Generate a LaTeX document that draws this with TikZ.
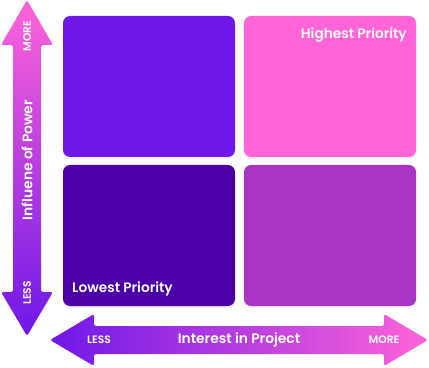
\documentclass[tikz,border=0pt]{standalone}
\usepackage{fontspec}
\setmainfont{Poppins}[BoldFont={Poppins SemiBold}]
\usetikzlibrary{shadows}

\definecolor{pinkhi}{HTML}{FF64D8}
\definecolor{violet}{HTML}{6E17E8}
\definecolor{indigo}{HTML}{4B00A8}
\definecolor{plum}{HTML}{AA35C4}

\begin{document}
\begin{tikzpicture}[x=0.03cm, y=0.03cm,
    quad/.style={rounded corners=6pt, minimum width=172*0.03cm, minimum height=141*0.03cm,
      inner sep=0pt, drop shadow={opacity=0.12, shadow xshift=0pt, shadow yshift=-2pt}},
    title/.style={text=white, font=\bfseries\fontsize{11.7}{14}\selectfont, inner sep=0pt},
    axis/.style={text=white, font=\bfseries\fontsize{11.8}{14}\selectfont, inner sep=0pt},
    tick/.style={text=white, font=\bfseries\fontsize{9.2}{11}\selectfont, inner sep=0pt}]
    \useasboundingbox (0,0) rectangle (429,367);

    % Quadrants
    \node[quad, fill=violet] (lowhigh) at (149,280.5) {};
    \node[quad, fill=pinkhi] (highhigh) at (330,280.5) {};
    \node[quad, fill=indigo] (lowlow) at (149,131.5) {};
    \node[quad, fill=plum] (highlow) at (330,131.5) {};

    % Quadrant labels
    \node[title, anchor=east] (highest) at (407,332) {Highest Priority};
    \node[title, anchor=west] (lowest) at (72,78) {Lowest Priority};

    % Vertical axis arrow
    \shade[top color=pinkhi, bottom color=violet, rounded corners=2pt]
      (27,367) -- (53,322) -- (41,322) -- (41,75) -- (53,75) -- (27,31)
      -- (1,75) -- (13,75) -- (13,322) -- (1,322) -- cycle;

    % Horizontal axis arrow
    \shade[left color=violet, right color=pinkhi, rounded corners=2pt]
      (50,27) -- (94,53) -- (94,41) -- (384,41) -- (384,53) -- (428,27)
      -- (384,1) -- (384,13) -- (94,13) -- (94,1) -- cycle;

    % Axis labels
    \node[axis, rotate=90] (power) at (27,207) {Influene of Power};
    \node[tick, rotate=90] (powmore) at (27,331) {MORE};
    \node[tick, rotate=90] (powless) at (27,74) {LESS};
    \node[axis] (interest) at (239,27) {Interest in Project};
    \node[tick] (intless) at (99,27) {LESS};
    \node[tick] (intmore) at (384,27) {MORE};
\end{tikzpicture}
\end{document}
